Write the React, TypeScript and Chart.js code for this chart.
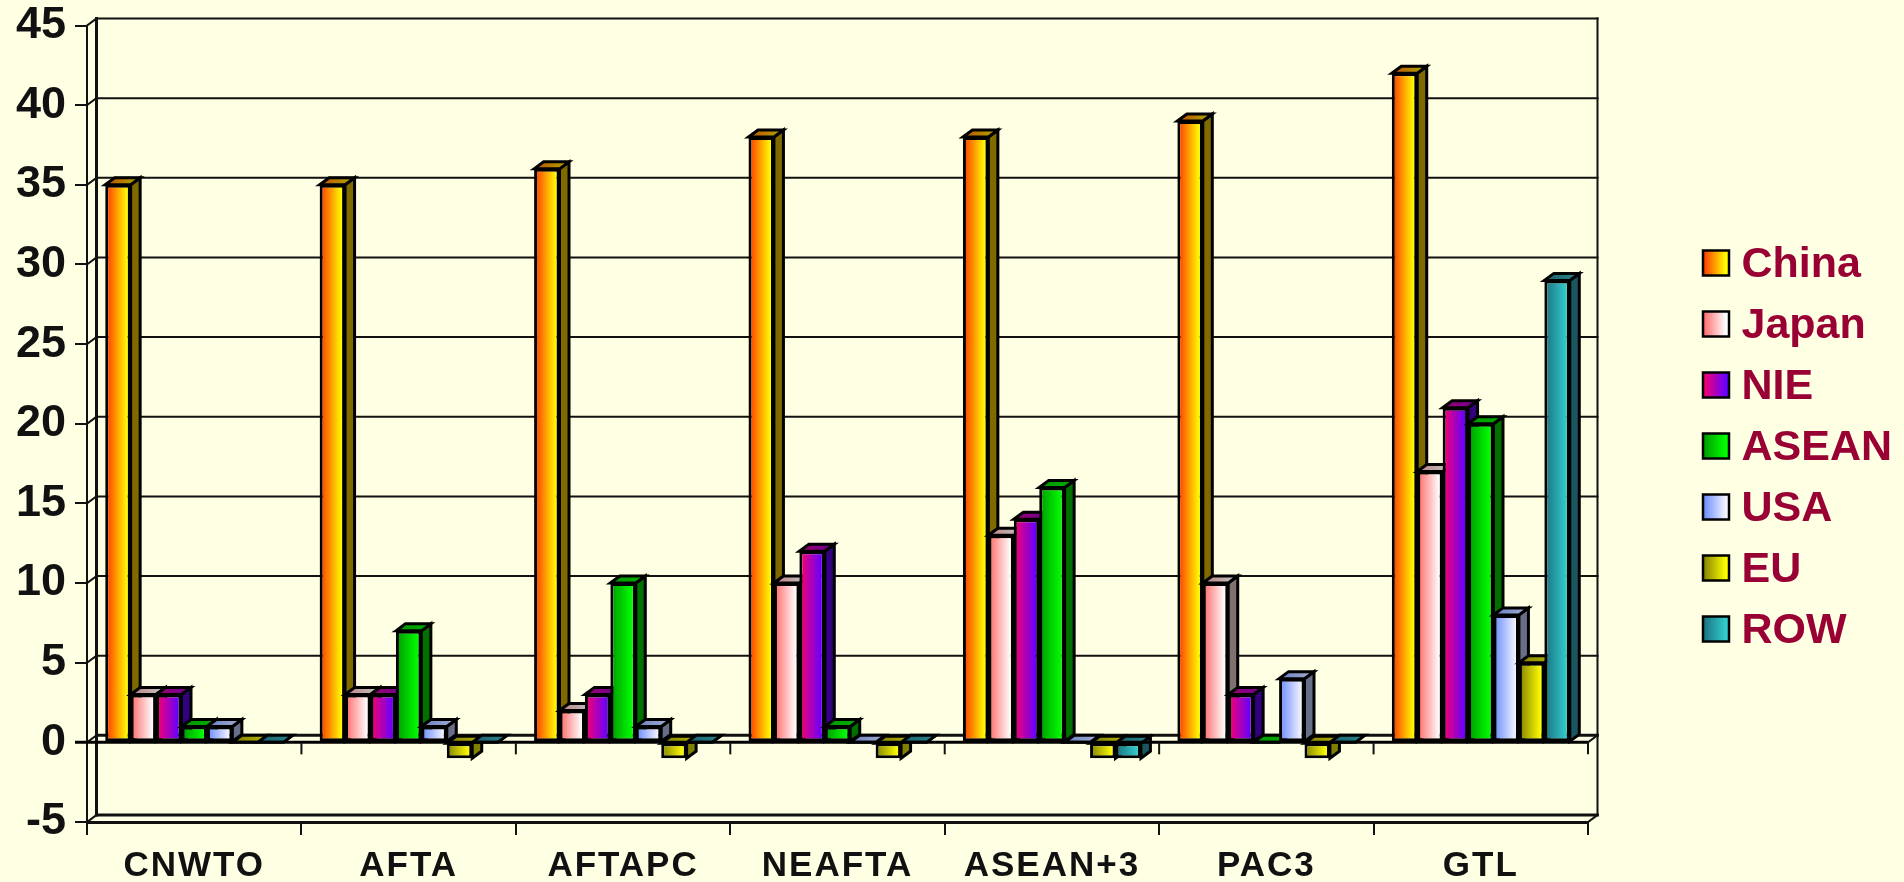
import React, { useEffect, useRef } from "react";
import { Chart, registerables } from "chart.js";

Chart.register(...registerables);

const categories = ["CNWTO", "AFTA", "AFTAPC", "NEAFTA", "ASEAN+3", "PAC3", "GTL"];
const china = [35, 35, 36, 38, 38, 39, 42];
const japan = [3, 3, 2, 10, 13, 10, 17];
const nie = [3, 3, 3, 12, 14, 3, 21];
const asean = [1, 7, 10, 1, 16, 0, 20];
const usa = [1, 1, 1, 0, 0, 4, 8];
const eu = [0, -1, -1, -1, -1, -1, 5];
const row = [0, 0, 0, 0, -1, 0, 29];

const seriesNames = ["China", "Japan", "NIE", "ASEAN", "USA", "EU", "ROW"];
const seriesValues = [china, japan, nie, asean, usa, eu, row];
const gradientStart = ["#FF3300", "#FF6666", "#FF0066", "#009900", "#6688FF", "#808000", "#1A7080"];
const gradientEnd = ["#FFFF00", "#FFFFFF", "#6600FF", "#00FF00", "#F4F4FF", "#FFFF00", "#33CCCC"];
const sideColors = ["#806A00", "#807070", "#330080", "#007000", "#666E88", "#808000", "#1A5560"];
const topStart = ["#C05000", "#C08080", "#A00070", "#009900", "#6680C0", "#808000", "#1A6070"];
const topEnd = ["#B0A000", "#C0C0C0", "#700090", "#00AA00", "#A0A8D0", "#B0B000", "#2A8088"];

const BG = "#FFFFE3";
const FONT = '"Liberation Sans", Arial, sans-serif';
const DX = 9.5;
const DY = -7;

function hgrad(c: CanvasRenderingContext2D, x0: number, x1: number, a: string, b: string) {
  const g = c.createLinearGradient(x0, 0, x1, 0);
  g.addColorStop(0, a);
  g.addColorStop(0.88, b);
  g.addColorStop(1, b);
  return g;
}

function line(c: CanvasRenderingContext2D, x0: number, y0: number, x1: number, y1: number, w: number, col = "#111") {
  c.beginPath();
  c.lineWidth = w;
  c.strokeStyle = col;
  c.moveTo(x0, y0);
  c.lineTo(x1, y1);
  c.stroke();
}

function drawWalls(chart: any) {
  const c = chart.ctx;
  const { y } = chart.scales;
  const left = chart.chartArea.left;
  const right = chart.chartArea.right;
  c.save();
  c.lineCap = "square";
  y.ticks.forEach((t: any) => {
    const py = y.getPixelForValue(t.value);
    const edge = t.value === -5 || t.value === 0;
    line(c, left, py, left + DX, py + DY, 2);
    line(c, left + DX, py + DY, right + DX, py + DY, edge ? 3 : 2);
  });
  const top = y.getPixelForValue(45);
  const bottom = y.getPixelForValue(-5);
  const zero = y.getPixelForValue(0);
  line(c, left + DX, top + DY, left + DX, bottom + DY, 3);
  line(c, right + DX, top + DY, right + DX, bottom + DY, 2);
  line(c, right, bottom, right + DX, bottom + DY, 2);
  line(c, right, zero, right + DX, zero + DY, 2);
  c.restore();
}

function drawDepthFaces(chart: any, meta: any, i: number) {
  const c = chart.ctx;
  c.save();
  c.lineJoin = "miter";
  meta.data.forEach((el: any) => {
    const p = el.getProps(["x", "y", "base", "width"], true);
    const l = p.x - p.width / 2;
    const r = p.x + p.width / 2;
    const t = Math.min(p.y, p.base);
    const b = Math.max(p.y, p.base);
    c.lineWidth = 3;
    c.strokeStyle = "#000";
    c.beginPath();
    c.moveTo(r, t);
    c.lineTo(r + DX, t + DY);
    c.lineTo(r + DX, b + DY);
    c.lineTo(r, b);
    c.closePath();
    c.fillStyle = sideColors[i];
    c.fill();
    c.stroke();
    c.beginPath();
    c.moveTo(l, t);
    c.lineTo(l + DX, t + DY);
    c.lineTo(r + DX, t + DY);
    c.lineTo(r, t);
    c.closePath();
    c.fillStyle = hgrad(c, l, r + DX, topStart[i], topEnd[i]);
    c.fill();
    c.stroke();
    el.options = Object.assign({}, el.options, {
      backgroundColor: hgrad(c, l, r, gradientStart[i], gradientEnd[i]),
    });
  });
  c.restore();
}

function drawFrontZero(chart: any) {
  const c = chart.ctx;
  const { x, y } = chart.scales;
  const left = chart.chartArea.left;
  const right = chart.chartArea.right;
  const zero = y.getPixelForValue(0);
  c.save();
  line(c, left - 12, zero, right, zero, 3, "#000");
  const w = x.width / categories.length;
  for (let k = 1; k <= categories.length; k++) {
    const px = left + w * k;
    line(c, px, zero, px, zero + 12, 2);
  }
  c.restore();
}

const walls3d = {
  id: "walls3d",
  beforeDatasetsDraw(chart: any) {
    drawWalls(chart);
    // Left-to-right painting: each series covers the depth faces of the one before it.
    const metas = seriesNames.map((_, i) => chart.getDatasetMeta(i));
    metas.forEach((meta: any, i: number) => {
      drawDepthFaces(chart, meta, i);
      meta.controller.draw();
    });
    drawFrontZero(chart);
    return false;
  },
  afterLayout(chart: any) {
    const lg = chart.legend;
    if (lg) {
      lg.left = 1685;
      lg.top = 226;
      lg.right = 1900;
      lg.bottom = 860;
    }
    const xs = chart.scales.x;
    if (xs && !xs.__spaced) {
      xs.__spaced = true;
      const orig = xs.drawLabels;
      xs.drawLabels = function (area: any) {
        const c = chart.ctx;
        c.save();
        c.letterSpacing = "2px";
        orig.call(this, area);
        c.restore();
      };
    }
  },
  afterDraw(chart: any) {
    const c = chart.ctx;
    const lg = chart.legend;
    const pad = lg.options.labels.padding;
    const size = lg.options.labels.font.size;
    const step = size + pad;
    c.save();
    seriesNames.forEach((_, i) => {
      const bx = lg.left + pad;
      const by = lg.top + pad - 2.5 + i * step + (size - 25) / 2;
      c.fillStyle = hgrad(c, bx, bx + 26, gradientStart[i], gradientEnd[i]);
      c.fillRect(bx, by, 26, 25);
      c.lineWidth = 2.5;
      c.strokeStyle = "#000";
      c.strokeRect(bx, by, 26, 25);
    });
    c.restore();
  },
};

export default function App() {
  const ref = useRef<HTMLCanvasElement | null>(null);
  useEffect(() => {
    document.body.style.margin = "0";
    document.body.style.background = BG;
    const chart = new Chart(ref.current as HTMLCanvasElement, {
      type: "bar",
      data: {
        labels: categories,
        datasets: seriesNames.map((name, i) => ({
          label: name,
          data: seriesValues[i],
          backgroundColor: gradientEnd[i],
          borderColor: "#000",
          borderWidth: 3,
          borderSkipped: false,
          clip: false,
          categoryPercentage: 0.83,
          barPercentage: 1,
        })),
      } as any,
      options: {
        responsive: false,
        animation: false,
        devicePixelRatio: 1,
        layout: { padding: { top: 25.5, left: 0, right: 316, bottom: 0 } },
        scales: {
          x: {
            grid: { drawOnChartArea: false, drawTicks: true, tickLength: 13, color: "#111", lineWidth: 2 },
            border: { color: "#111", width: 3 },
            ticks: { font: { family: FONT, size: 35, weight: "bold" }, color: "#111", padding: 10, maxRotation: 0, autoSkip: false },
            afterFit: (s: any) => { s.height = 60; },
          },
          y: {
            min: -5,
            max: 45,
            grid: { drawOnChartArea: false, drawTicks: true, tickLength: 12, color: "#111", lineWidth: 2 },
            border: { color: "#111", width: 2 },
            ticks: { stepSize: 5, font: { family: FONT, size: 45, weight: "bold" }, color: "#111", padding: 9 },
            afterFit: (s: any) => { s.width = 87; s.paddingTop = 0; s.paddingBottom = 0; },
          },
        },
        plugins: {
          tooltip: { enabled: false },
          title: { display: false },
          legend: {
            display: true,
            position: "chartArea",
            align: "start",
            labels: {
              boxWidth: 17,
              boxHeight: 25,
              padding: 18,
              color: "#990033",
              font: { family: FONT, size: 43, weight: "bold" },
              generateLabels: (ch: any) =>
                ch.data.datasets.map((d: any, i: number) => ({
                  text: d.label,
                  fillStyle: "rgba(0,0,0,0)",
                  strokeStyle: "rgba(0,0,0,0)",
                  lineWidth: 0,
                  fontColor: "#990033",
                  hidden: false,
                  datasetIndex: i,
                })),
            },
          },
        },
      } as any,
      plugins: [walls3d],
    });
    return () => chart.destroy();
  }, []);
  return (
    <div style={{ position: "absolute", left: 0, top: 0, width: 1904, height: 882, background: BG, overflow: "hidden" }}>
      <canvas ref={ref} width={1904} height={882} style={{ display: "block" }} />
    </div>
  );
}
